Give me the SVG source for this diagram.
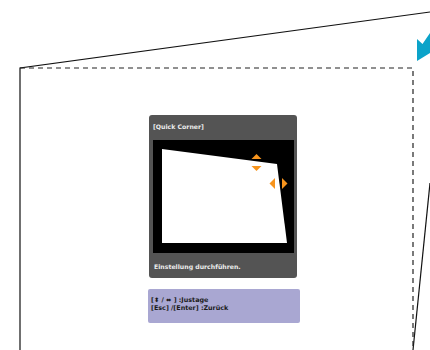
<svg xmlns="http://www.w3.org/2000/svg" width="430" height="350" viewBox="0 0 430 350">
<style>
.solid{fill:none;stroke:#111;stroke-width:1.2}
.dash{fill:none;stroke:#222;stroke-width:1.2;stroke-dasharray:5,4}
.t{font-family:"DejaVu Sans","Liberation Sans",sans-serif;font-size:6.4px;font-weight:bold}
.d{font-size:6.2px}
.w{fill:#ececec}
.k{fill:#1a1a1a}
.o{fill:#f7941d}
</style>
<rect width="430" height="350" fill="#fff"/>
<g id="connectors">
<polyline class="solid" points="20,350 20,68 430,12"/>
<polyline class="solid" points="413,350 430,183"/>
<polyline class="dash" points="20,68 413,68 413,350"/>
</g>
<g id="arrow">
<polygon points="417,39 422.5,44 430,33 430,53 417,61" fill="#0ba3c9"/>
</g>
<g id="dialog">
<rect x="149" y="115" width="148" height="163" rx="3" fill="#545454"/>
<text class="t d w" x="153" y="129">[Quick Corner]</text>
<rect x="153" y="140" width="141" height="113" fill="#000"/>
<polygon points="162,149 277,164 287,243 162,243" fill="#fff"/>
<polygon class="o" points="256.5,154 251.5,159 261.5,159"/>
<polygon class="o" points="256.5,171 251.5,166 261.5,166"/>
<polygon class="o" points="269.5,183.5 275,178 275,189"/>
<polygon class="o" points="287.5,183.5 282,178 282,189"/>
<text class="t d w" x="154" y="269">Einstellung durchführen.</text>
</g>
<g id="help">
<rect x="148" y="289" width="152" height="34" rx="2" fill="#a9a7d2"/>
<text class="t k" x="151" y="302">[⬍ / ⬌ ] :Justage</text>
<text class="t k" x="151" y="310">[Esc] /[Enter] :Zurück</text>
</g>
</svg>
